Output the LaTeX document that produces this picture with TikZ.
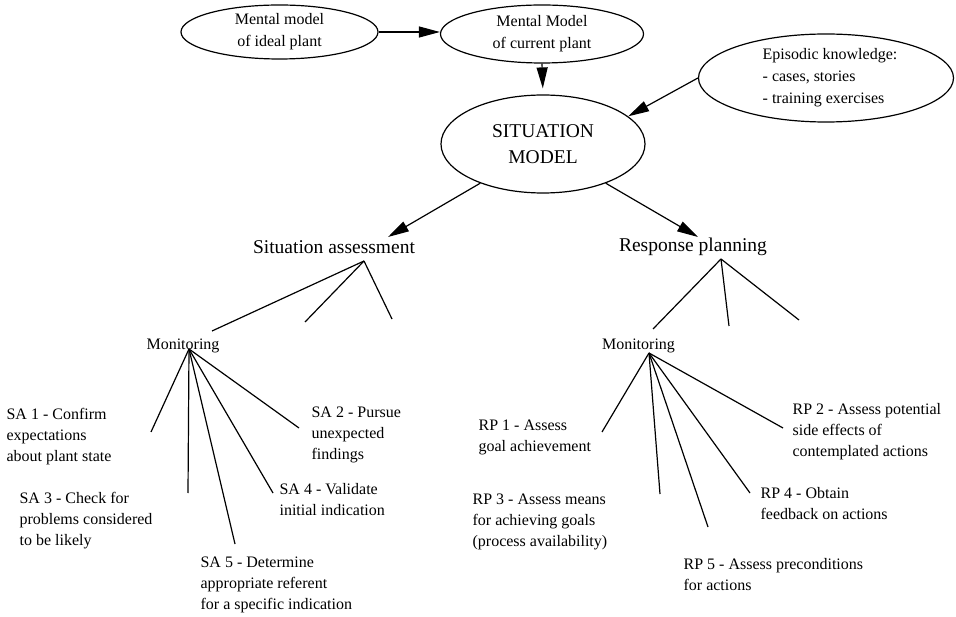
\documentclass[tikz,border=0pt]{standalone}
\usepackage{fontspec}
\setmainfont{Liberation Serif}
\usetikzlibrary{shapes.geometric, arrows.meta}

\begin{document}
\begin{tikzpicture}[
    x=1pt, y=-1pt,
    model/.style={draw, ellipse, inner sep=0pt, align=center,
                  font=\fontsize{16}{22}\selectfont},
    head/.style={font=\fontsize{19.5}{26}\selectfont, inner sep=0pt},
    lbl/.style={font=\fontsize{16}{21}\selectfont, align=left,
                anchor=west, inner sep=0pt},
    line width=1.2pt,
    >={Triangle[length=21pt,width=11pt]}
  ]
  \useasboundingbox (0,0) rectangle (956,617);

  % Models
  \node[model, minimum width=197, minimum height=54] (ideal) at (279.5,32)
    {Mental model\\of ideal plant};
  \node[model, minimum width=203, minimum height=58] (current) at (542,34)
    {Mental Model\\of current plant};
  \node[model, minimum width=255, minimum height=88, align=left] (episodic) at (826,78)
    {\hspace*{8pt}Episodic knowledge:\\\hspace*{8pt}- cases, stories\\\hspace*{8pt}- training exercises};
  \node[model, minimum width=204, minimum height=98,
        font=\fontsize{19.5}{26}\selectfont] (sitmodel) at (543,144)
    {SITUATION\\MODEL};

  % Main tasks
  \node[head] (sa) at (334,247) {Situation assessment};
  \node[head] (rp) at (693,247) {Response planning};

  % Arrows into the situation model
  \draw[->] (ideal.east) -- (ideal.east -| current.west);
  \draw[->, shorten >=6pt] (current.south) -- (sitmodel.north);
  \draw[->] (episodic.west) -- (sitmodel.18);

  % Arrows to the two tasks
  \coordinate (satip) at (388,237);
  \coordinate (rptip) at (698,237);
  \draw[->] (sitmodel.212) -- (satip);
  \draw[->] (sitmodel.328) -- (rptip);

  % Subtask trees
  \coordinate (saroot) at (364,261);
  \coordinate (rproot) at (721,259);
  \coordinate (sab1) at (212,331);
  \coordinate (sab2) at (305,322);
  \coordinate (sab3) at (392,319);
  \coordinate (rpb1) at (653,329);
  \coordinate (rpb2) at (729,326);
  \coordinate (rpb3) at (799,320);
  \foreach \i in {1,2,3} {
    \draw (saroot) -- (sab\i);
    \draw (rproot) -- (rpb\i);
  }

  % Monitoring
  \node[lbl, anchor=center] (monsa) at (183,346) {Monitoring};
  \node[lbl, anchor=center] (monrp) at (638.5,346) {Monitoring};
  \coordinate (monsaroot) at (189,349);
  \coordinate (monrproot) at (649,353);

  % SA labels
  \node[lbl] (sa1) at (6,437) {SA 1 - Confirm\\expectations\\about plant state};
  \node[lbl] (sa2) at (311,435) {SA 2 - Pursue\\unexpected\\findings};
  \node[lbl] (sa3) at (19,521) {SA 3 - Check for\\problems considered\\to be likely};
  \node[lbl] (sa4) at (279,499.5) {SA 4 - Validate\\initial indication};
  \node[lbl] (sa5) at (200,585) {SA 5 - Determine\\appropriate referent\\for a specific indication};

  % RP labels
  \node[lbl] (rp1) at (478,437.5) {RP 1 - Assess\\goal achievement};
  \node[lbl] (rp2) at (792,432) {RP 2 - Assess potential\\side effects of\\contemplated actions};
  \node[lbl] (rp3) at (472,521.5) {RP 3 - Assess means\\for achieving goals\\(process availability)};
  \node[lbl] (rp4) at (760,504) {RP 4 - Obtain\\feedback on actions};
  \node[lbl] (rp5) at (683,574.5) {RP 5 - Assess preconditions\\for actions};

  % Monitoring branches
  \foreach \n/\x/\y in {1/151/432, 3/188/493, 5/235/544, 4/273/493, 2/299/428}
    \coordinate (sa\n end) at (\x,\y);
  \foreach \n/\x/\y in {1/602/432, 3/660/494, 5/708/527, 4/750/493, 2/783/428}
    \coordinate (rp\n end) at (\x,\y);
  \foreach \n in {1,...,5} {
    \draw (monsaroot) -- (sa\n end);
    \draw (monrproot) -- (rp\n end);
  }
\end{tikzpicture}
\end{document}
